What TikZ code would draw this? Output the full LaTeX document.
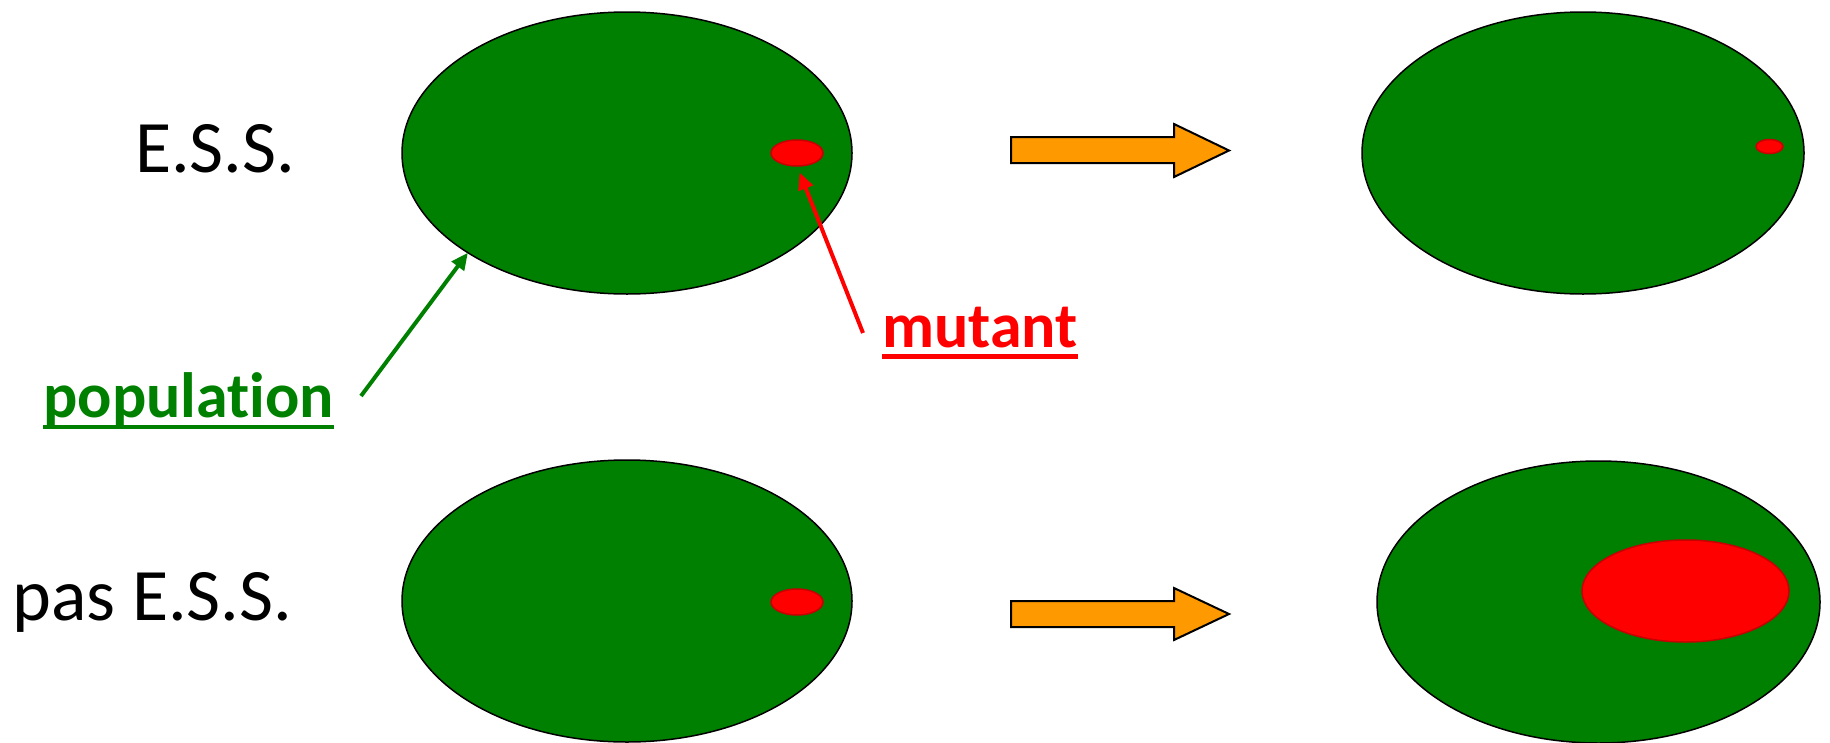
\documentclass[tikz,border=0pt]{standalone}
\usepackage{fontspec}
\setmainfont{Carlito}[Ligatures={NoCommon,NoRare,NoContextual}]
\usetikzlibrary{arrows.meta,shapes.geometric}
\definecolor{popgreen}{RGB}{0,128,0}
\definecolor{mutred}{RGB}{255,0,0}
\definecolor{mutedge}{RGB}{200,0,0}
\definecolor{arrorange}{RGB}{255,153,0}
\begin{document}
\begin{tikzpicture}[x=1pt,y=-1pt,
  pop/.style={ellipse, draw=black, line width=1.5pt, fill=popgreen,
    minimum width=450pt, minimum height=282pt, inner sep=0pt, outer sep=0pt},
  dot/.style={ellipse, draw=mutedge, line width=1.5pt, fill=mutred,
    minimum width=52pt, minimum height=26pt, inner sep=0pt, outer sep=0pt},
  lbl/.style={anchor=base west, inner sep=0pt, font=\fontsize{74}{80}\selectfont},
  tag/.style={anchor=base west, inner sep=0pt, font=\fontsize{64}{72}\selectfont\bfseries},
  pointer/.style={line width=4pt, -{Triangle[length=17pt,width=15pt]}},
  orarrow/.style={draw=black, line width=2pt, fill=arrorange, line join=miter}]
\useasboundingbox (0,0) rectangle (1830,742);

% populations
\node[pop] (p1) at (627,153) {};
\node[dot] (m1) at (797,153) {};
\node[pop, minimum width=442pt] (p2) at (1583,153) {};
\node[dot, minimum width=27pt, minimum height=14pt] (m2) at (1769.5,146.5) {};
\node[pop] (p3) at (627,601) {};
\node[dot] (m3) at (797,602) {};
\node[pop, minimum width=443pt] (p4) at (1598.5,602) {};
\node[dot, minimum width=207pt, minimum height=102pt] (m4) at (1685.5,591) {};

% labels
\node[lbl] (ess) at (135,172) {E.S.S.};
\node[lbl] (pess) at (12,620) {pas E.S.S.};
\node[tag, text=popgreen] (poptxt) at (43,417) {populat\kern0pt ion};
\node[tag, text=mutred] (muttxt) at (882,347) {mutant};
\draw[popgreen, line width=4pt] ([yshift=-10pt]poptxt.base west) -- ([yshift=-10pt]poptxt.base east);
\draw[mutred, line width=4.5pt] ([yshift=-9.5pt]muttxt.base west) -- ([yshift=-9.5pt]muttxt.base east);

% pointers
\coordinate (poptail) at (361,396);
\coordinate (muttail) at (863,333);
\draw[pointer, popgreen] (poptail) -- (p1.south west);
\draw[pointer, mutred, shorten >=7pt] (muttail) -- (m1.south);

% orange arrows
\draw[orarrow] (1011,137) -- (1174,137) -- (1174,124) -- (1229,150.5) -- (1174,177) -- (1174,163) -- (1011,163) -- cycle;
\draw[orarrow] (1011,601) -- (1174,601) -- (1174,588) -- (1229,614) -- (1174,640) -- (1174,627) -- (1011,627) -- cycle;
\end{tikzpicture}
\end{document}
